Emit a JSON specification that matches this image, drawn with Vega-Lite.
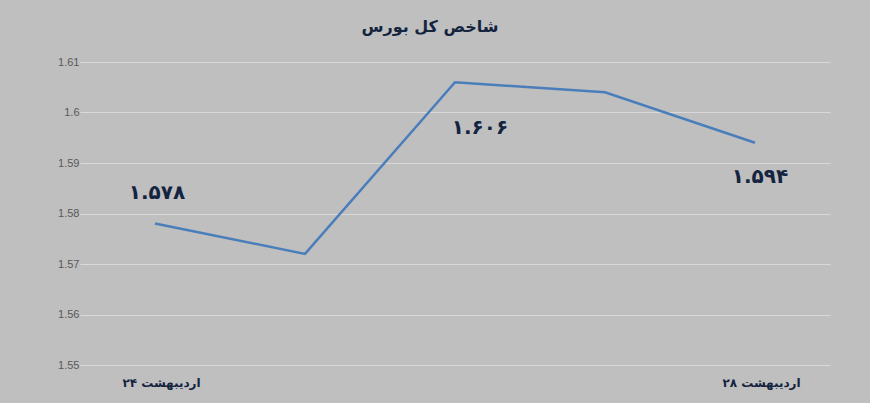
{
  "$schema": "https://vega.github.io/schema/vega-lite/v6.json",
  "width": 750,
  "height": 303,
  "autosize": {"type": "none"},
  "padding": {"left": 80, "top": 62, "right": 40, "bottom": 38},
  "background": "#bfbfbf",
  "config": {"view": {"stroke": null}},
  "title": {
    "text": "شاخص کل بورس",
    "font": "DejaVu Sans",
    "fontSize": 16,
    "fontWeight": "bold",
    "color": "#14243f",
    "anchor": "middle",
    "dx": -25,
    "offset": 21
  },
  "data": {
    "values": [
      {"day": "24", "value": 1.578, "label": "۱.۵۷۸"},
      {"day": "25", "value": 1.572, "label": ""},
      {"day": "26", "value": 1.606, "label": "۱.۶۰۶"},
      {"day": "27", "value": 1.604, "label": ""},
      {"day": "28", "value": 1.594, "label": "۱.۵۹۴"}
    ]
  },
  "encoding": {
    "x": {
      "field": "day",
      "type": "ordinal",
      "scale": {"type": "point", "padding": 0.5},
      "axis": {
        "title": null,
        "domain": false,
        "ticks": false,
        "labelAngle": 0,
        "labelExpr": "datum.value == '24' ? '۲۴ اردیبهشت' : (datum.value == '28' ? '۲۸ اردیبهشت' : '')",
        "labelFont": "DejaVu Sans",
        "labelFontSize": 12,
        "labelFontWeight": "bold",
        "labelColor": "#14243f",
        "labelPadding": 12,
        "labelOffset": 6
      }
    },
    "y": {
      "field": "value",
      "type": "quantitative",
      "scale": {"domain": [1.55, 1.61], "nice": false, "zero": false},
      "axis": {
        "title": null,
        "domain": false,
        "ticks": false,
        "tickSize": 0,
        "values": [1.55, 1.56, 1.57, 1.58, 1.59, 1.6, 1.61],
        "format": "",
        "labelOverlap": false,
        "labelFont": "Liberation Sans",
        "labelFontSize": 11,
        "labelColor": "#595959",
        "labelPadding": 1,
        "grid": true,
        "gridColor": "#d9d9d9",
        "gridWidth": 1
      }
    }
  },
  "layer": [
    {
      "mark": {"type": "line", "color": "#4a7ebb", "strokeWidth": 2.5}
    },
    {
      "transform": [{"filter": "datum.day == '24'"}],
      "mark": {"type": "text", "font": "DejaVu Sans", "fontSize": 20, "fontWeight": "bold", "color": "#14243f", "dy": -31, "dx": 2},
      "encoding": {"text": {"field": "label"}}
    },
    {
      "transform": [{"filter": "datum.day == '26'"}],
      "mark": {"type": "text", "font": "DejaVu Sans", "fontSize": 20, "fontWeight": "bold", "color": "#14243f", "dy": 46, "dx": 25},
      "encoding": {"text": {"field": "label"}}
    },
    {
      "transform": [{"filter": "datum.day == '28'"}],
      "mark": {"type": "text", "font": "DejaVu Sans", "fontSize": 20, "fontWeight": "bold", "color": "#14243f", "dy": 34, "dx": 5},
      "encoding": {"text": {"field": "label"}}
    }
  ]
}
